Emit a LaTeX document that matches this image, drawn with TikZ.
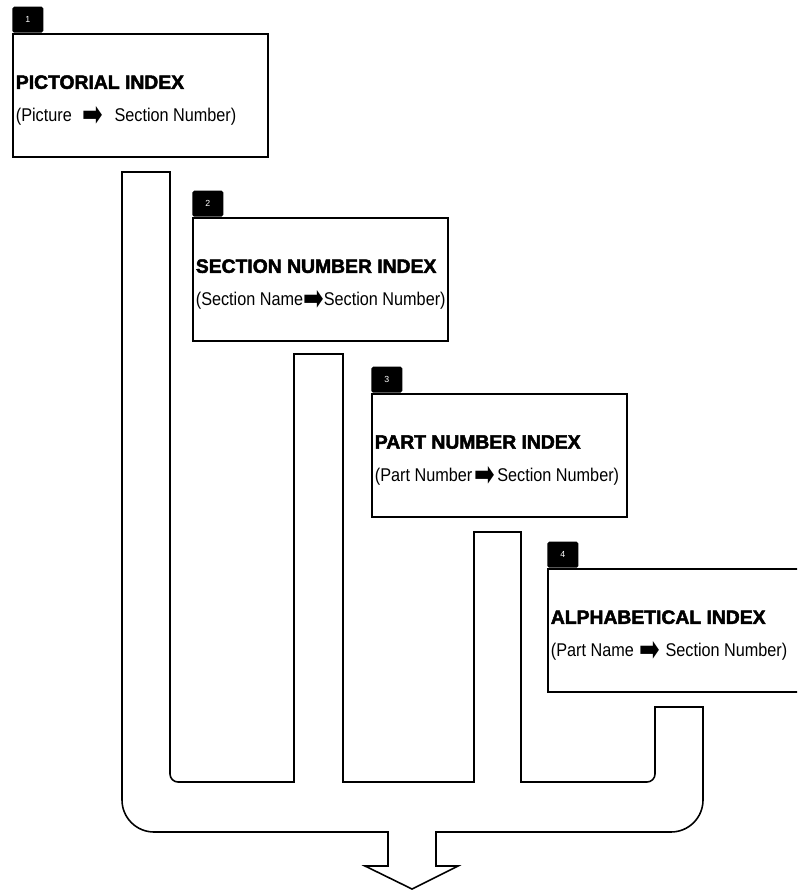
\documentclass[tikz,border=0pt]{standalone}
\usepackage{fontspec}
\setmainfont{Liberation Sans}
\newfontfamily\heavyfont{Liberation Sans Bold}[FakeBold=2.5]
\newfontfamily\mapfont{Liberation Sans}[FakeStretch=0.88]
\newfontfamily\symfont{DejaVu Sans}
\usetikzlibrary{positioning}

\newcommand{\maparrow}{\raisebox{-2.8pt}{\scalebox{1}[1.45]{\symfont\fontsize{14}{14}\selectfont\char"27A1}}}

\begin{document}
\begin{tikzpicture}[x=0.02cm,y=-0.02cm,
    idxbox/.style={draw,line width=0.9pt,anchor=north west,
      minimum width=5.1cm,minimum height=2.46cm},
    idxhead/.style={inner sep=0pt,font=\heavyfont\fontsize{11}{13}\selectfont},
    idxmap/.style={inner sep=0pt,font=\mapfont\fontsize{10.5}{13}\selectfont},
    tab/.style={fill=black,minimum width=0.62cm,minimum height=0.52cm,
      inner sep=0pt,rounded corners=1pt,font=\tiny,text=white},
    channel/.style={line width=0.9pt,line join=miter}
  ]
    \clip (0,0) rectangle (797,891);

    \foreach \n/\x/\y/\ttl/\src/\gap in {1/12/33/PICTORIAL INDEX/Picture/0.6em,
        2/192/217/SECTION NUMBER INDEX/Section Name/0em,
        3/371/393/PART NUMBER INDEX/Part Number/0.12em,
        4/547/568/ALPHABETICAL INDEX/Part Name/0.3em} {
      \node[idxbox] (idx\n) at (\x,\y) {};
      \node[tab,above right=0pt and 0pt of idx\n.north west] (tab\n) {\n};
      \node[idxhead,below right=0.84cm and 0.07cm of idx\n.north west]
        (head\n) {\ttl};
      \node[idxmap,below right=1.47cm and 0.07cm of idx\n.north west]
        (map\n) {(\src\hspace{\gap}\maparrow\hspace{\gap}Section Number)};
    }

    \coordinate (out) at (412,889);
    \draw[channel] (122,172) -- (170,172) -- (170,774)
      arc[start angle=180,end angle=270,radius=0.16cm] -- (294,782)
      -- (294,354) -- (343,354) -- (343,782) -- (474,782) -- (474,532)
      -- (521,532) -- (521,782) -- (647,782)
      arc[start angle=270,end angle=360,radius=0.16cm] -- (655,707)
      -- (703,707) -- (703,800)
      arc[start angle=0,end angle=-90,radius=0.64cm] -- (436,832)
      -- (436,866) -- (458,866) -- (out) -- (365,866) -- (388,866)
      -- (388,832) -- (154,832)
      arc[start angle=-90,end angle=-180,radius=0.64cm] -- cycle;
  \end{tikzpicture}
\end{document}
